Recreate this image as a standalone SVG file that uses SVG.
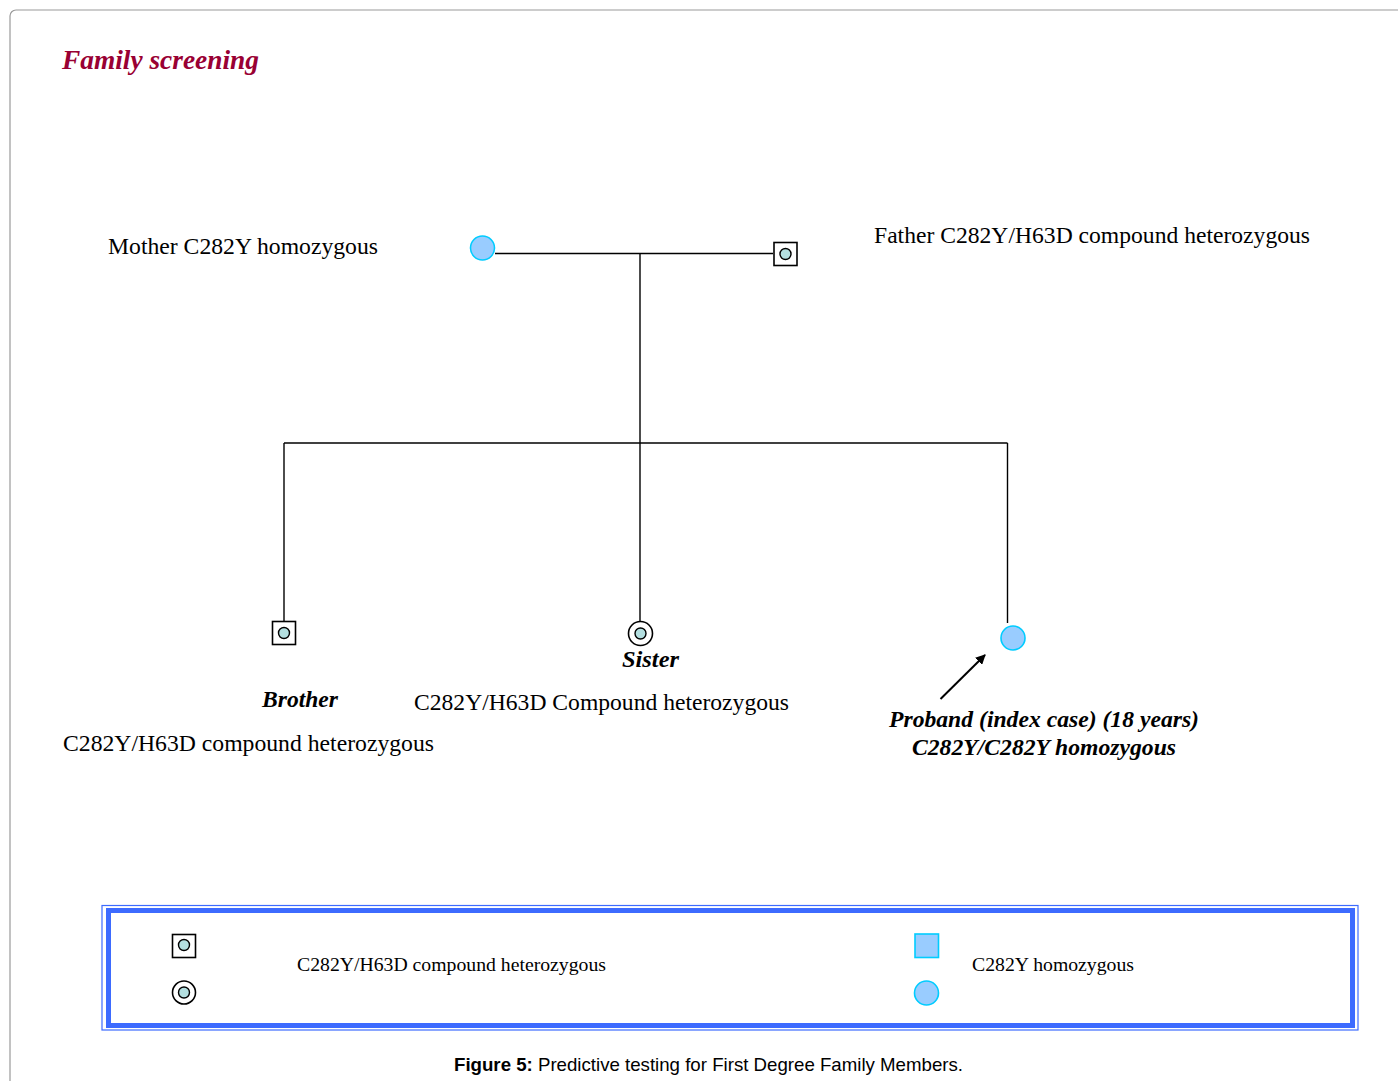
<svg xmlns="http://www.w3.org/2000/svg" width="1398" height="1081" viewBox="0 0 1398 1081">
<defs>
<style>
.t{font-family:"Liberation Serif","Times New Roman",serif;fill:#000;}
.n{font-size:22.5px;}
.bi{font-size:22.5px;font-weight:bold;font-style:italic;}
.lg{font-size:19.3px;}
.ln{stroke:#000;stroke-width:1.4;fill:none;}
.box{fill:#fff;stroke:#000;stroke-width:1.6;}
.dot{fill:#b3dfe0;stroke:#000;stroke-width:1.4;}
.blue{fill:#99ccff;stroke:#00ccff;stroke-width:1.6;}
</style>
<marker id="ah" markerWidth="10" markerHeight="10" refX="9" refY="5" orient="auto" markerUnits="userSpaceOnUse">
<path d="M0,0 L10,5 L0,10 z" fill="#000"/>
</marker>
</defs>
<rect width="1398" height="1081" fill="#fff"/>
<rect x="10" y="10" width="1420" height="1100" rx="6" fill="#fff" stroke="#9a9a9a" stroke-width="1.2"/>
<text x="62" y="69" font-family="Liberation Serif,serif" font-size="27" font-weight="bold" font-style="italic" fill="#990033" textLength="197" lengthAdjust="spacingAndGlyphs">Family screening</text>

<g id="connectors">
<line class="ln" x1="495" y1="253.5" x2="773" y2="253.5"/>
<line class="ln" x1="640" y1="253.5" x2="640" y2="621"/>
<line class="ln" x1="284" y1="443" x2="1007.5" y2="443"/>
<line class="ln" x1="284" y1="443" x2="284" y2="621"/>
<line class="ln" x1="1007.5" y1="443" x2="1007.5" y2="623"/>
<line x1="940.5" y1="699" x2="985" y2="655" stroke="#000" stroke-width="2" marker-end="url(#ah)"/>
</g>

<g id="mother">
<circle class="blue" cx="482.5" cy="248" r="12"/>
<text class="t n" x="108" y="254" textLength="270" lengthAdjust="spacingAndGlyphs">Mother C282Y homozygous</text>
</g>
<g id="father">
<rect class="box" x="774" y="242.5" width="23" height="23"/>
<circle class="dot" cx="785.5" cy="254" r="5.5"/>
<text class="t n" x="874" y="243" textLength="436" lengthAdjust="spacingAndGlyphs">Father C282Y/H63D compound heterozygous</text>
</g>
<g id="brother">
<rect class="box" x="272.5" y="621.5" width="23" height="23"/>
<circle class="dot" cx="284" cy="633" r="5.5"/>
<text class="t bi" x="262" y="707" textLength="76" lengthAdjust="spacingAndGlyphs">Brother</text>
<text class="t n" x="63" y="751" textLength="371" lengthAdjust="spacingAndGlyphs">C282Y/H63D compound heterozygous</text>
</g>
<g id="sister">
<circle cx="640.5" cy="633.5" r="12" fill="#fff" stroke="#000" stroke-width="1.6"/>
<circle class="dot" cx="640.5" cy="633.5" r="5.5"/>
<text class="t bi" x="622" y="667" textLength="57" lengthAdjust="spacingAndGlyphs">Sister</text>
<text class="t n" x="414" y="710" textLength="375" lengthAdjust="spacingAndGlyphs">C282Y/H63D Compound heterozygous</text>
</g>
<g id="proband">
<circle class="blue" cx="1013" cy="638" r="12"/>
<text class="t bi" x="889" y="727" textLength="310" lengthAdjust="spacingAndGlyphs">Proband (index case) (18 years)</text>
<text class="t bi" x="912" y="755" textLength="264" lengthAdjust="spacingAndGlyphs">C282Y/C282Y homozygous</text>
</g>

<g id="legend">
<rect x="102" y="905.5" width="1256" height="124.5" fill="none" stroke="#3d6bff" stroke-width="1.2"/>
<rect x="108.5" y="910.5" width="1244" height="115" fill="none" stroke="#3d6bff" stroke-width="5"/>
<rect class="box" x="172.5" y="934.5" width="23" height="23"/>
<circle class="dot" cx="184" cy="945" r="5.5"/>
<circle cx="184" cy="992.5" r="11.5" fill="#fff" stroke="#000" stroke-width="1.6"/>
<circle class="dot" cx="184" cy="992.5" r="5.5"/>
<text class="t lg" x="297" y="971" textLength="309" lengthAdjust="spacingAndGlyphs">C282Y/H63D compound heterozygous</text>
<rect class="blue" x="915" y="934" width="23.5" height="23.5"/>
<circle class="blue" cx="926.5" cy="993" r="12"/>
<text class="t lg" x="972" y="971" textLength="162" lengthAdjust="spacingAndGlyphs">C282Y homozygous</text>
</g>

<text x="454" y="1071" font-family="Liberation Sans,Arial,sans-serif" font-size="18.5" fill="#000" textLength="509" lengthAdjust="spacingAndGlyphs"><tspan font-weight="bold">Figure 5:</tspan> Predictive testing for First Degree Family Members.</text>
</svg>
